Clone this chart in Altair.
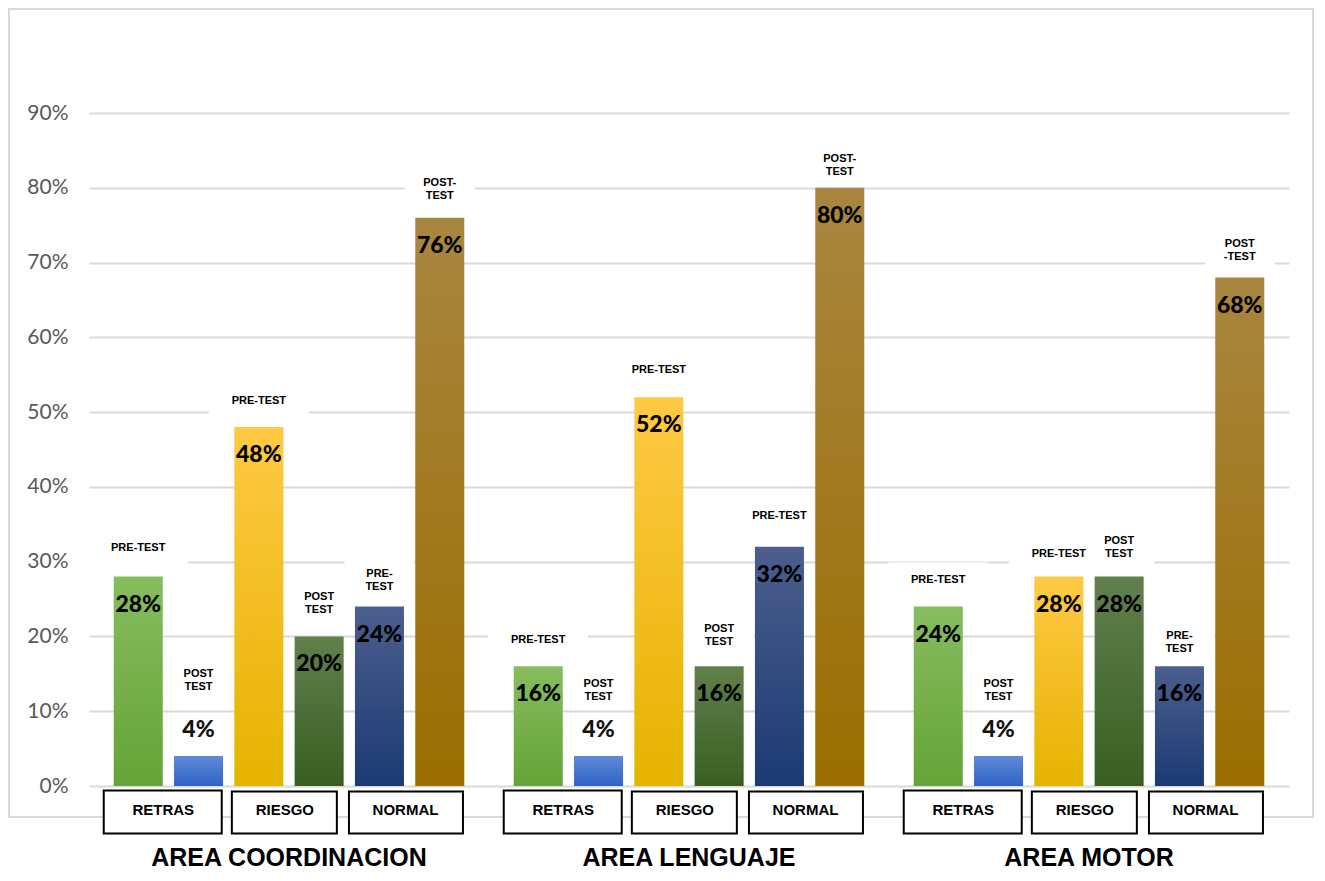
import altair as alt
import pandas as pd

# ---- data ----
areas = ["AREA COORDINACION", "AREA LENGUAJE", "AREA MOTOR"]
series = ["RETRAS PRE", "RETRAS POST", "RIESGO PRE", "RIESGO POST", "NORMAL PRE", "NORMAL POST"]
levels = ["RETRAS", "RIESGO", "NORMAL"]
level_first_series = ["RETRAS PRE", "RIESGO PRE", "NORMAL PRE"]

values_coordinacion = [28, 4, 48, 20, 24, 76]
values_lenguaje = [16, 4, 52, 16, 32, 80]
values_motor = [24, 4, 28, 28, 16, 68]

tags_coordinacion = ["PRE-TEST", "POST\nTEST", "PRE-TEST", "POST\nTEST", "PRE-\nTEST", "POST-\nTEST"]
tags_lenguaje = ["PRE-TEST", "POST\nTEST", "PRE-TEST", "POST\nTEST", "PRE-TEST", "POST-\nTEST"]
tags_motor = ["PRE-TEST", "POST\nTEST", "PRE-TEST", "POST\nTEST", "PRE-\nTEST", "POST\n-TEST"]

# where each tag sits (in % units of the value axis)
tag_y_coordinacion = [31.8, 15.0, 51.5, 25.3, 28.4, 80.6]
tag_y_lenguaje = [19.5, 13.6, 55.6, 21.0, 36.1, 83.9]
tag_y_motor = [27.5, 13.6, 31.0, 32.8, 20.1, 72.5]

y_ticks = [0, 10, 20, 30, 40, 50, 60, 70, 80, 90]

gradients = {
    "RETRAS PRE": ("#86bd5e", "#65a337"),
    "RETRAS POST": ("#5e8bd8", "#2f62c3"),
    "RIESGO PRE": ("#ffc944", "#e5b300"),
    "RIESGO POST": ("#60804c", "#395e22"),
    "NORMAL PRE": ("#4c5f8e", "#1b3a73"),
    "NORMAL POST": ("#a98640", "#9a6e00"),
}

rows = []
for area, vals, tags, tys in [
    (areas[0], values_coordinacion, tags_coordinacion, tag_y_coordinacion),
    (areas[1], values_lenguaje, tags_lenguaje, tag_y_lenguaje),
    (areas[2], values_motor, tags_motor, tag_y_motor),
]:
    for s, v, t, ty in zip(series, vals, tags, tys):
        rows.append({"area": area, "series": s, "value": v, "tag": t, "ty": ty,
                     "label": f"{v}%", "multi": "\n" in t})
df = pd.DataFrame(rows)

box_rows = []
for area in areas:
    for lv, fs in zip(levels, level_first_series):
        box_rows.append({"area": area, "series": fs, "level": lv})
box_df = pd.DataFrame(box_rows)

title_df = pd.DataFrame({"area": areas})

# ---- encodings ----
X = alt.X("area:N", scale=alt.Scale(domain=areas, paddingInner=0, paddingOuter=0), axis=None)
XO = alt.XOffset("series:N", scale=alt.Scale(domain=series, paddingInner=0.187, paddingOuter=0.41))
yscale = alt.Scale(domain=[0, 90], nice=False, zero=True)
yaxis = alt.Axis(values=y_ticks, labelExpr="datum.value + '%'", grid=True,
                 gridColor="#d9d9d9", gridWidth=2, domain=False, ticks=False,
                 labelFontSize=21, labelColor="#595959", labelFont="Lato",
                 labelPadding=21, title=None)


def Y(field):
    return alt.Y(field, scale=yscale, axis=yaxis)


base = alt.Chart(df)

# outer frame
frame = alt.Chart(pd.DataFrame({"a": [0]})).mark_rect(
    fillOpacity=0, stroke="#d9d9d9", strokeWidth=2
).encode(x=alt.value(-80), x2=alt.value(1224), y=alt.value(-104), y2=alt.value(704))

# white backgrounds for tags
tag_bg_single = base.transform_filter("!datum.multi").transform_calculate(
    y1="datum.ty - 2.4", y2="datum.ty + 2.4"
).mark_bar(color="white", width=100).encode(
    x=X, xOffset=XO, y=Y("y1:Q"), y2="y2:Q"
)
tag_bg_multi = base.transform_filter("datum.multi").transform_calculate(
    y1="datum.ty - 3.4", y2="datum.ty + 3.4"
).mark_bar(color="white", width=70).encode(
    x=X, xOffset=XO, y=Y("y1:Q"), y2="y2:Q"
)

# bars with gradients
bar_layers = []
for s in series:
    top, bottom = gradients[s]
    grad = alt.Gradient(
        gradient="linear",
        stops=[alt.GradientStop(color=top, offset=0), alt.GradientStop(color=bottom, offset=1)],
        x1=0, x2=0, y1=0, y2=1,
    )
    bar_layers.append(
        base.transform_filter(alt.datum.series == s).mark_bar(color=grad).encode(
            x=X, xOffset=XO, y=Y("value:Q")
        )
    )

# value labels
val_inside = base.transform_filter("datum.value >= 10").mark_text(
    font="Lato", fontWeight=900, fontSize=23, color="#000000", baseline="middle", dy=28
).encode(x=X, xOffset=XO, y=Y("value:Q"), text="label:N")
val_above = base.transform_filter("datum.value < 10").mark_text(
    font="Lato", fontWeight=900, fontSize=23, color="#111111", baseline="middle", dy=-26
).encode(x=X, xOffset=XO, y=Y("value:Q"), text="label:N")

# tags
tag_text = base.mark_text(
    font="Liberation Sans", fontWeight="bold", fontSize=11, color="#000000",
    baseline="middle", lineBreak="\n", lineHeight=13
).encode(x=X, xOffset=XO, y=Y("ty:Q"), text="tag:N")

# level boxes below the axis (custom rectangle symbols anchored at the first bar of each pair)
box_layers = []
box_paths = {
    "RETRAS": "M-0.345,-0.215H0.835V0.215H-0.345Z",
    "RIESGO": "M-0.27,-0.205H0.78V0.215H-0.27Z",
    "NORMAL": "M-0.305,-0.205H0.835V0.215H-0.305Z",
}
box_shift = {"RETRAS": 25, "RIESGO": 26, "NORMAL": 26}
for lv in levels:
    bd = alt.Chart(box_df).transform_filter(alt.datum.level == lv)
    box_layers.append(
        bd.mark_point(shape=box_paths[lv], size=40000, filled=True, fill="white",
                      stroke="black", strokeWidth=2, opacity=1).encode(
            x=X, xOffset=XO, y=alt.value(699)
        )
    )
    box_layers.append(
        bd.mark_text(font="Liberation Sans", fontWeight="bold", fontSize=15,
                     color="#000000", baseline="middle", dx=box_shift[lv]).encode(
            x=X, xOffset=XO, y=alt.value(697), text="level:N"
        )
    )

titles = alt.Chart(title_df).mark_text(
    font="Liberation Sans", fontWeight="bold", fontSize=25, color="#000000", baseline="middle"
).encode(x=X, y=alt.value(745), text="area:N")

chart = alt.layer(
    frame, tag_bg_single, tag_bg_multi, *bar_layers,
    val_inside, val_above, tag_text, *box_layers, titles
).properties(
    width=1200, height=673,
    autosize=alt.AutoSizeParams(type="none"),
    padding={"left": 81, "top": 105, "right": 28, "bottom": 90},
    background="white",
).configure_view(stroke=None)

chart.save("out.html", embed_options={"renderer": "svg", "actions": False})
